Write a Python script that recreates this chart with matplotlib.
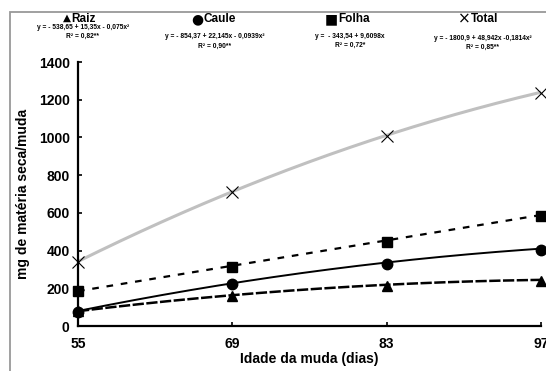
import numpy as np
import matplotlib
matplotlib.use("Agg")
import matplotlib.pyplot as plt
from matplotlib.patches import Rectangle

plt.rcParams['font.family'] = ['Liberation Sans', 'DejaVu Sans']

# ---- data ----
dias = [55, 69, 83, 97]
raiz = [80, 157, 212, 239]
caule = [75, 223, 329, 403]
folha = [186, 313, 446, 584]
total = [340, 711, 1008, 1236]

# regression coefficients shown on the chart (c0, c1, c2)
coef_raiz = [-538.65, 15.35, -0.075]
coef_caule = [-854.37, 22.145, -0.0939]
coef_folha = [-343.54, 9.6098, 0.0]
coef_total = [-1800.9, 48.942, -0.1814]

names = ['Raiz', 'Caule', 'Folha', 'Total']
glyphs = ['▲', '●', '■', '×']
equations = ['y = - 538,65 + 15,35x - 0,075x²',
             'y = - 854,37 + 22,145x - 0,0939x²',
             'y =  - 343,54 + 9,6098x',
             'y = - 1800,9 + 48,942x -0,1814x²']
r2_labels = ['R² = 0,82**', 'R² = 0,90**', 'R² = 0,72*', 'R² = 0,85**']

yticks = [0, 200, 400, 600, 800, 1000, 1200, 1400]

W, H = 546, 371
fig = plt.figure(figsize=(W / 100, H / 100), dpi=100)

# grey frame (clipped at right & bottom)
fig.patches.append(Rectangle((10 / W, -0.1), 1.2, 1 - 12 / H + 0.1, transform=fig.transFigure,
                             fill=False, edgecolor='#999999', linewidth=1.3, zorder=0))

ax = fig.add_axes([78 / W, 1 - 326 / H, (541 - 78) / W, (326 - 62) / H])
ax.patch.set_alpha(0)

xs = np.linspace(dias[0], dias[-1], 200)

def curve(c):
    return c[0] + c[1] * xs + c[2] * xs ** 2

ax.plot(xs, curve(coef_total), color='#c0c0c0', lw=2.2, zorder=2)
ax.plot(xs, curve(coef_folha), color='black', lw=1.6, ls=(0, (3, 3.5)), zorder=3)
ax.plot(xs, curve(coef_caule), color='black', lw=1.4, zorder=3)
ax.plot(xs, curve(coef_raiz), color='black', lw=1.8, ls=(0, (4.5, 1)), zorder=3)

ax.plot(dias, total, ls='none', marker='x', ms=9, mew=0.8, color='black', zorder=5, clip_on=False)
ax.plot(dias, folha, ls='none', marker='s', ms=7.5, color='black', zorder=5, clip_on=False)
ax.plot(dias, caule, ls='none', marker='o', ms=7.5, color='black', zorder=5, clip_on=False)
ax.plot(dias, raiz, ls='none', marker='^', ms=7.5, color='black', zorder=5, clip_on=False)

ax.set_xlim(55, 97)
ax.set_ylim(0, 1400)
ax.set_xticks(dias)
ax.set_yticks(yticks)
for s in ['top', 'right']:
    ax.spines[s].set_visible(False)
for s in ['left', 'bottom']:
    ax.spines[s].set_linewidth(1.6)
ax.tick_params(direction='in', length=3, width=1.2, labelsize=10)
ax.tick_params(axis='x', pad=8)
ax.tick_params(axis='y', pad=6)
for lab in ax.get_xticklabels() + ax.get_yticklabels():
    lab.set_fontweight('bold')
ax.set_xlabel('Idade da muda (dias)', fontsize=10, fontweight='bold', labelpad=1)
ax.set_ylabel('mg de matéria seca/muda', fontsize=10, fontweight='bold', labelpad=6)

# legend-like headers
cx = [83, 215, 350, 483]
eq_y = [27.5, 37, 37, 38]
r2_y = [36, 46, 45, 47]
glyph_size = [7.5, 10, 10, 11]
glyph_y = [18, 19, 19, 19]
for i in range(4):
    fig.text((cx[i] - 12) / W, 1 - glyph_y[i] / H, glyphs[i], ha='right', va='center',
             fontsize=glyph_size[i], family=['DejaVu Sans'])
    fig.text((cx[i] - 12) / W, 1 - 18.5 / H, names[i], ha='left', va='center',
             fontsize=8.5, fontweight='bold')
    fig.text(cx[i] / W, 1 - eq_y[i] / H, equations[i], ha='center', va='center',
             fontsize=4.8, fontweight='bold')
    fig.text(cx[i] / W, 1 - r2_y[i] / H, r2_labels[i], ha='center', va='center',
             fontsize=4.8, fontweight='bold')

fig.savefig('out.png', dpi=100)
